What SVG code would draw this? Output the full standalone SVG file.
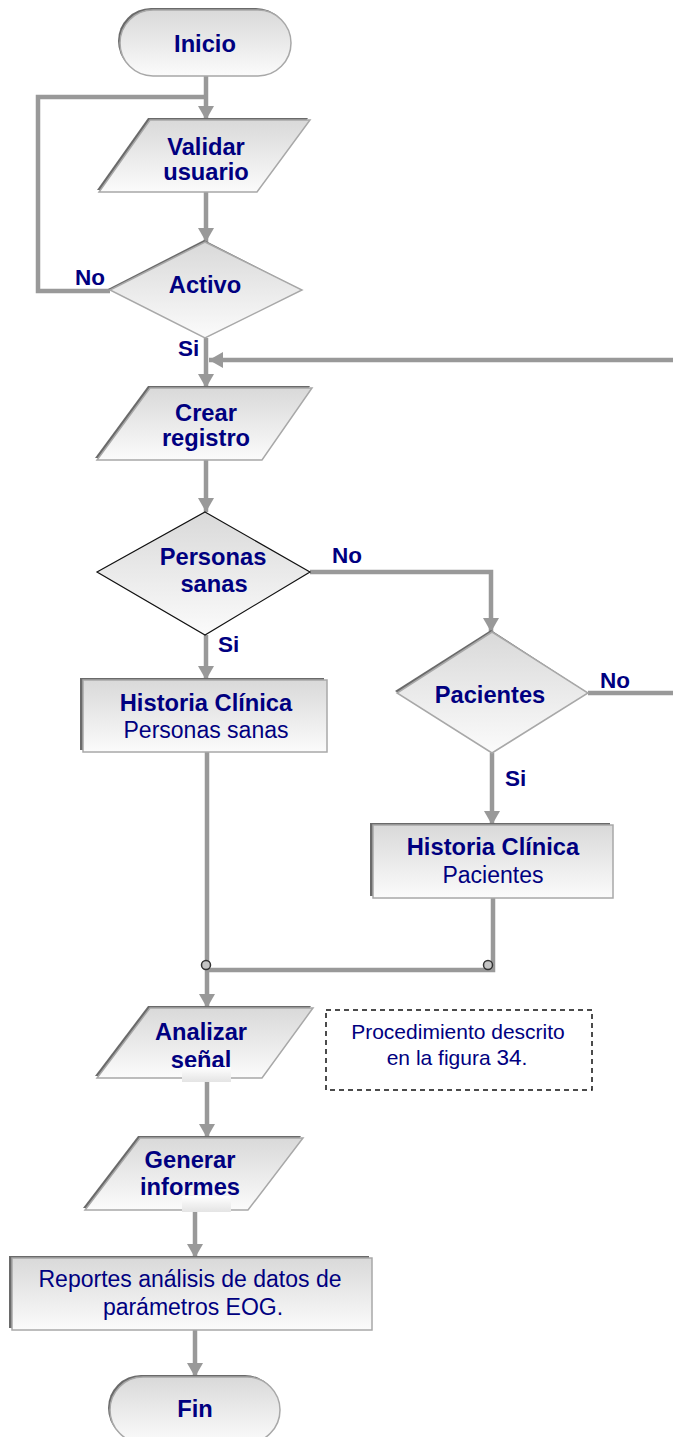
<svg xmlns="http://www.w3.org/2000/svg" width="673" height="1437" viewBox="0 0 673 1437">
  <defs>
    <linearGradient id="fillGrad" x1="0" y1="0" x2="0" y2="1">
      <stop offset="0" stop-color="#d9d9d9"/>
      <stop offset="1" stop-color="#fbfbfb"/>
    </linearGradient>
    <linearGradient id="patchGrad" x1="0" y1="0" x2="0" y2="1">
      <stop offset="0" stop-color="#ffffff"/>
      <stop offset="1" stop-color="#e4e4e4"/>
    </linearGradient>
    <marker id="arrow" markerUnits="userSpaceOnUse" markerWidth="14" markerHeight="16" viewBox="0 0 14 16" refX="14" refY="8" orient="auto">
      <path d="M0,0 L14,8 L0,16 Z" fill="#999999"/>
    </marker>
    <style>
      .conn { fill: none; stroke: #999999; stroke-width: 4.5; }
      .arr { marker-end: url(#arrow); }
      .shadow { fill: #6a6a6a; }
      .shape { fill: url(#fillGrad); stroke: #a8a8a8; stroke-width: 1.5; }
      .shape-dark { fill: url(#fillGrad); stroke: #111111; stroke-width: 1.2; }
      .lbl { font-family: "Liberation Sans", Arial, sans-serif; font-size: 23.7px; font-weight: bold; fill: #000080; text-anchor: middle; }
      .txt { font-family: "Liberation Sans", Arial, sans-serif; font-size: 23px; fill: #000080; text-anchor: middle; }
      .note { font-family: "Liberation Sans", Arial, sans-serif; font-size: 21px; fill: #000080; text-anchor: middle; }
      .tag { font-family: "Liberation Sans", Arial, sans-serif; font-size: 22.5px; font-weight: bold; fill: #000080; }
      .joint { fill: #c4c4c4; stroke: #333333; stroke-width: 1.5; }
      .patch { fill: url(#patchGrad); }
    </style>
  </defs>

  <!-- connectors -->
  <g id="connectors">
    <path class="conn arr" d="M206,76 V120"/>
    <path class="conn" d="M206,97 H38 V291 H110"/>
    <path class="conn arr" d="M206,192 V242"/>
    <path class="conn arr" d="M206,338 V388"/>
    <path class="conn arr" d="M673,360 H209"/>
    <path class="conn arr" d="M206,460 V512"/>
    <path class="conn arr" d="M310,572 H491 V632"/>
    <path class="conn arr" d="M206,635 V680"/>
    <path class="conn" d="M588,693 H673"/>
    <path class="conn arr" d="M492,753 V825"/>
    <path class="conn arr" d="M207,752 V1008"/>
    <path class="conn" d="M493,898 V970 H207"/>
    <circle class="joint" cx="206" cy="965" r="4.5"/>
    <circle class="joint" cx="488" cy="965" r="4.5"/>
    <path class="conn arr" d="M207,1078 V1138"/>
    <path class="conn arr" d="M195,1210 V1258"/>
    <path class="conn arr" d="M195,1330 V1377"/>
  </g>

  <!-- connector labels -->
  <g id="labels">
    <text class="tag" x="75" y="285">No</text>
    <text class="tag" x="178" y="356">Si</text>
    <text class="tag" x="332" y="563">No</text>
    <text class="tag" x="218" y="652">Si</text>
    <text class="tag" x="600" y="688">No</text>
    <text class="tag" x="505" y="786">Si</text>
  </g>

  <g id="inicio">
    <rect class="shadow" x="118" y="8" width="171" height="66" rx="33"/>
    <rect class="shape" x="120" y="10" width="171" height="66" rx="33"/>
    <text class="lbl" x="205" y="52">Inicio</text>
  </g>

  <g id="validar-usuario">
    <polygon class="shadow" points="148,118 308,118 255,190 97,190"/>
    <polygon class="shape" points="150,120 310,120 257,192 99,192"/>
    <text class="lbl" x="206" y="155">Validar</text>
    <text class="lbl" x="206" y="180">usuario</text>
  </g>

  <g id="activo">
    <polygon class="shadow" points="204,240 302,290 204,336 108,289"/>
    <polygon class="shape" points="205,242 302,290 205,338 110,290"/>
    <text class="lbl" x="205" y="293">Activo</text>
  </g>

  <g id="crear-registro">
    <polygon class="shadow" points="148,386 310,386 260,458 95,458"/>
    <polygon class="shape" points="150,388 312,388 262,460 97,460"/>
    <text class="lbl" x="206" y="421">Crear</text>
    <text class="lbl" x="206" y="446">registro</text>
  </g>

  <g id="personas-sanas">
    <polygon class="shape-dark" points="205,512 310,572 205,635 97,572"/>
    <text class="lbl" x="213" y="565">Personas</text>
    <text class="lbl" x="214" y="592">sanas</text>
  </g>

  <g id="pacientes">
    <polygon class="shadow" points="491,630 588,693 491,751 395,691"/>
    <polygon class="shape" points="492,632 588,693 492,753 397,693"/>
    <text class="lbl" x="490" y="703">Pacientes</text>
  </g>

  <g id="hc-personas-sanas">
    <rect class="shadow" x="80" y="678" width="244" height="72"/>
    <rect class="shape" x="83" y="680" width="244" height="72"/>
    <text class="lbl" x="206" y="711">Historia Clínica</text>
    <text class="txt" x="206" y="738">Personas sanas</text>
  </g>

  <g id="hc-pacientes">
    <rect class="shadow" x="370" y="823" width="240" height="73"/>
    <rect class="shape" x="373" y="825" width="240" height="73"/>
    <text class="lbl" x="493" y="855">Historia Clínica</text>
    <text class="txt" x="493" y="883">Pacientes</text>
  </g>

  <g id="analizar-senal">
    <polygon class="shadow" points="148,1006 311,1006 260,1076 95,1076"/>
    <polygon class="shape" points="150,1008 313,1008 262,1078 97,1078"/>
    <text class="lbl" x="201" y="1040">Analizar</text>
    <text class="lbl" x="201" y="1068">señal</text>
    <rect class="patch" x="182" y="1067" width="49" height="15"/>
  </g>

  <g id="nota">
    <rect x="326" y="1010" width="266" height="80" fill="none" stroke="#111111" stroke-width="1.5" stroke-dasharray="5,4"/>
    <text class="note" x="458" y="1039">Procedimiento descrito</text>
    <text class="note" x="457" y="1065">en la figura <tspan font-size="22.5">34</tspan>.</text>
  </g>

  <g id="generar-informes">
    <polygon class="shadow" points="138,1136 301,1136 246,1208 83,1208"/>
    <polygon class="shape" points="140,1138 303,1138 248,1210 85,1210"/>
    <text class="lbl" x="190" y="1168">Generar</text>
    <text class="lbl" x="190" y="1195">informes</text>
    <rect class="patch" x="182" y="1196" width="49" height="16"/>
  </g>

  <g id="reportes">
    <rect class="shadow" x="9" y="1256" width="360" height="72"/>
    <rect class="shape" x="12" y="1258" width="360" height="72"/>
    <text class="txt" x="190" y="1287">Reportes análisis de datos de</text>
    <text class="txt" x="193" y="1315">parámetros EOG.</text>
  </g>

  <g id="fin">
    <rect class="shadow" x="108" y="1375" width="170" height="66" rx="33"/>
    <rect class="shape" x="110" y="1377" width="170" height="66" rx="33"/>
    <text class="lbl" x="195" y="1417">Fin</text>
  </g>
</svg>
